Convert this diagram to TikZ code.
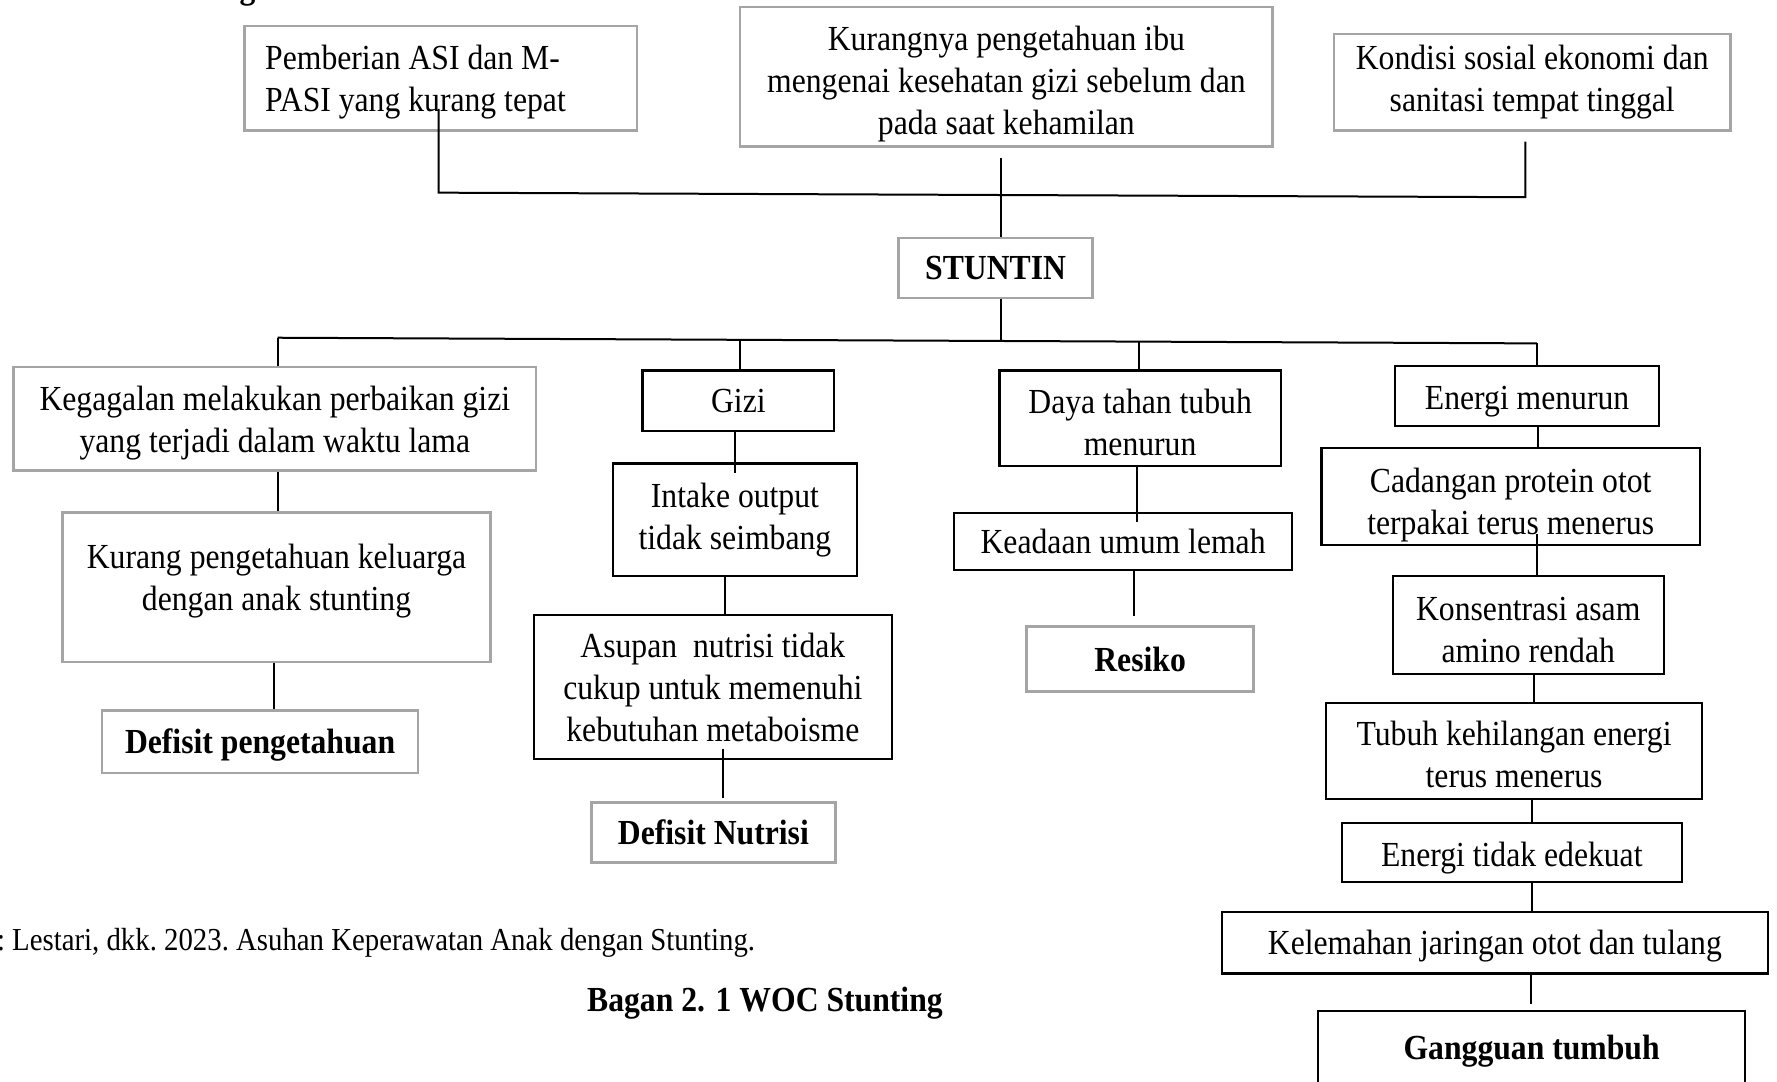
\documentclass[tikz,border=0pt]{standalone}
\usepackage{fontspec}
\setmainfont{Liberation Serif}[FakeStretch=0.9]
\usetikzlibrary{calc}
\definecolor{boxgray}{RGB}{165,165,165}
\tikzset{
  txt/.style={inner sep=0pt, align=center, font=\fontsize{17.6}{21}\selectfont},
  btxt/.style={inner sep=0pt, align=center, font=\fontsize{17.6}{21}\selectfont\bfseries},
  sz/.style 2 args={minimum width=#1*0.5667pt, minimum height=#2*0.5667pt},
  gbox/.style={draw=boxgray, line width=1.3pt},
  kbox/.style={draw=black, line width=1.1pt},
  conn/.style={draw=black, line width=1pt},
}
\begin{document}
\begin{tikzpicture}[x=0.5667pt, y=-0.5667pt]
\useasboundingbox (0,0) rectangle (1568,954);
\fill[white] (0,0) rectangle (1568,954);

% partial heading letter at the top edge
\node[btxt, anchor=base west] (hd) at (211,-1) {g};

% top causes
\node[txt, gbox, sz={346}{92}, align=flush left, text width=310*0.5667pt, text height=16.5pt] (b1) at (389,69)
  {Pemberian ASI dan M-\\PASI yang kurang tepat};
\node[txt, gbox, sz={470}{123}, text height=61.4pt] (b2) at (888,67.5)
  {Kurangnya pengetahuan ibu\\mengenai kesehatan gizi sebelum dan\\pada saat kehamilan};
\node[txt, gbox, sz={350}{85}] (b3) at (1352,72.5)
  {Kondisi sosial ekonomi dan\\sanitasi tempat tinggal};

\node[btxt, gbox, sz={171}{53}] (stuntin) at (878.5,236.5) {STUNTIN};

% column 1
\node[txt, gbox, sz={461}{91}, text height=37.5pt] (keg) at (242.5,369.5)
  {Kegagalan melakukan perbaikan gizi\\yang terjadi dalam waktu lama};
\node[txt, gbox, sz={378}{132}, text depth=18*0.5667pt] (kurang) at (244,518)
  {Kurang pengetahuan keluarga\\dengan anak stunting};
\node[btxt, gbox, sz={279}{55}, text height=15.6pt] (defp) at (229.5,654.5) {Defisit pengetahuan};

% column 2
\node[txt, kbox, sz={169}{53}] (gizi) at (651.5,353.5) {Gizi};
\node[txt, kbox, sz={215}{99}] (intake) at (648.5,458.5) {Intake output\\tidak seimbang};
\node[txt, kbox, sz={316}{127}] (asupan) at (629,606.5)
  {Asupan\ \ nutrisi tidak\\cukup untuk memenuhi\\kebutuhan metaboisme};
\node[btxt, gbox, sz={215}{53}] (defnut) at (629.5,734.5) {Defisit Nutrisi};

% column 3
\node[txt, kbox, sz={248}{84}, text height=37.5pt] (daya) at (1006,369) {Daya tahan tubuh\\menurun};
\node[txt, kbox, sz={298}{50}] (keadaan) at (991,478) {Keadaan umum lemah};
\node[btxt, gbox, sz={200}{57}] (resiko) at (1006,581.5) {Resiko};

% column 4
\node[txt, kbox, sz={233}{53}, text height=17.7pt] (energi) at (1347.5,349.5) {Energi menurun};
\node[txt, kbox, sz={334}{86}, text height=42.1pt] (cadangan) at (1333,438) {Cadangan protein otot\\terpakai terus menerus};
\node[txt, kbox, sz={239}{87}, text height=37.5pt] (konsen) at (1348.5,551.5) {Konsentrasi asam\\amino rendah};
\node[txt, kbox, sz={332}{85}, text height=37pt] (tubuh) at (1336,662.5) {Tubuh kehilangan energi\\terus menerus};
\node[txt, kbox, sz={300}{52}, text height=17.7pt] (etidak) at (1334,752) {Energi tidak edekuat};
\node[txt, kbox, sz={482}{54}, text height=15.4pt] (lemah) at (1319,832) {Kelemahan jaringan otot dan tulang};
\node[btxt, kbox, sz={377}{66}, text height=15.3pt] (ganggu) at (1351.5,925) {Gangguan tumbuh};

% captions
\node[inner sep=0pt, font=\fontsize{16}{19}\selectfont\frenchspacing, anchor=west] (src) at (-3,832)
  {: Lestari, dkk. 2023. Asuhan Keperawatan Anak dengan Stunting.};
\node[btxt] (cap) at (675,885) {Bagan 2. 1 WOC Stunting};

% ---- connectors ----
\coordinate (ja) at (387,96);
\coordinate (jb) at (387,170);
\coordinate (jc) at (1346,174);
\coordinate (jd) at (1346,125);
\coordinate (je) at (883,139);
\coordinate (jf) at (883,301);
\coordinate (hl) at (245,298);
\coordinate (hr) at (1356,303);
\coordinate (d2) at (653,300);
\coordinate (d3) at (1005,302);

\draw[conn] (ja) -- (jb) -- (jc) -- (jd);
\draw[conn] (je) -- (je |- stuntin.north);
\draw[conn] (stuntin.south -| je) -- (jf);
\draw[conn] (hl) -- (hr);
\draw[conn] (hl) -- (hl |- keg.north);
\draw[conn] (d2) -- (d2 |- gizi.north);
\draw[conn] (d3) -- (d3 |- daya.north);
\draw[conn] (hr) -- (hr |- energi.north);

% column 1
\draw[conn] (keg.south -| hl) -- (kurang.north -| hl);
\coordinate (c1a) at ($(kurang.south)+(-2,0)$);
\draw[conn] (c1a) -- (c1a |- defp.north);

% column 2
\draw[conn] (gizi.south -| intake.north) -- ($(intake.north)+(0,9)$);
\coordinate (c2a) at ($(intake.south)+(-8.5,0)$);
\draw[conn] (c2a) -- (c2a |- asupan.north);
\coordinate (c2b) at ($(asupan.south)+(9,-10)$);
\draw[conn] (c2b) -- ($(c2b |- defnut.north)+(0,-3)$);

% column 3
\coordinate (c3a) at ($(daya.south)+(-3,0)$);
\draw[conn] (c3a) -- ($(c3a |- keadaan.north)+(0,9)$);
\coordinate (c3b) at ($(keadaan.south)+(10,0)$);
\draw[conn] (c3b) -- ($(c3b |- resiko.north)+(0,-8)$);

% column 4
\coordinate (c4a) at ($(energi.south)+(9.5,0)$);
\draw[conn] (c4a) -- (c4a |- cadangan.north);
\coordinate (c4b) at ($(konsen.north)+(7.5,0)$);
\draw[conn] ($(c4b |- cadangan.south)+(0,-11)$) -- (c4b);
\coordinate (c4c) at ($(konsen.south)+(5.5,0)$);
\draw[conn] (c4c) -- (c4c |- tubuh.north);
\coordinate (c4d) at ($(etidak.north)+(18,0)$);
\draw[conn] (c4d |- tubuh.south) -- (c4d);
\coordinate (c4e) at ($(etidak.south)+(18,0)$);
\draw[conn] (c4e) -- (c4e |- lemah.north);
\coordinate (c4f) at ($(lemah.south)+(32,0)$);
\draw[conn] (c4f) -- ($(c4f |- ganggu.north)+(0,-5)$);
\end{tikzpicture}
\end{document}
